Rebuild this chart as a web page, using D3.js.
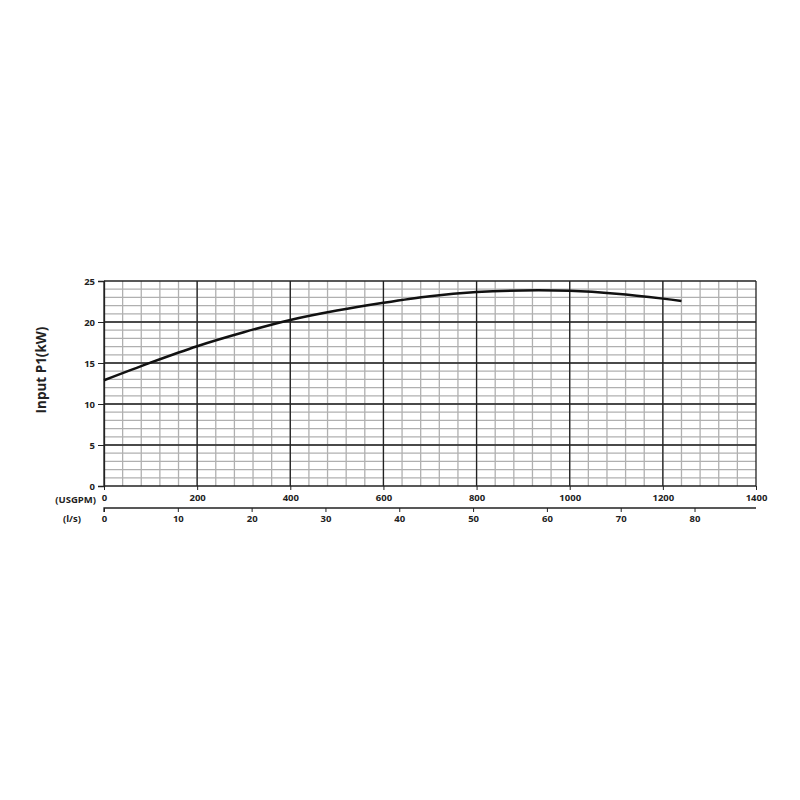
<!DOCTYPE html>
<html>
<head>
<meta charset="utf-8">
<script src="https://cdn.jsdelivr.net/npm/d3@7"></script>
<style>
  body { margin: 0; background: #fff; }
  text { font-family: "Open Sans", "Liberation Sans", sans-serif; font-weight: bold; fill: #222; }
</style>
</head>
<body>
<svg id="chart" width="800" height="800"></svg>
<script>
// flow in USGPM vs input power in kW
const flowUsgpm = [0, 100, 200, 300, 400, 500, 600, 700, 800, 900, 1000, 1100, 1200, 1240];
const powerKw = [12.9, 15.05, 17.05, 18.75, 20.25, 21.4, 22.35, 23.15, 23.65, 23.85, 23.8, 23.45, 22.85, 22.55];
const usgpmTicks = [0, 200, 400, 600, 800, 1000, 1200, 1400];
const lsTicks = [0, 10, 20, 30, 40, 50, 60, 70, 80];
const kwTicks = [0, 5, 10, 15, 20, 25];
const USGPM_PER_LS = 15.850;

const svg = d3.select("#chart");

const x = d3.scaleLinear().domain([0, 1400]).range([104, 756]);
const y = d3.scaleLinear().domain([0, 25]).range([486, 281]);
const xLs = d3.scaleLinear().domain([0, 1400 / USGPM_PER_LS]).range([104, 756]);

const grid = svg.append("g");

// minor grid, every 40 USGPM and every 1 kW
grid.selectAll(".vminor")
    .data(d3.range(40, 1400, 40))
    .enter().append("line")
    .attr("x1", d => x(d)).attr("x2", d => x(d))
    .attr("y1", y(0)).attr("y2", y(25))
    .attr("stroke", "#b0b0b0").attr("stroke-width", 1.3);

grid.selectAll(".hminor")
    .data(d3.range(1, 25, 1))
    .enter().append("line")
    .attr("x1", x(0)).attr("x2", x(1400))
    .attr("y1", d => y(d)).attr("y2", d => y(d))
    .attr("stroke", "#b0b0b0").attr("stroke-width", 1.3);

// major grid
grid.selectAll(".vmajor")
    .data(usgpmTicks)
    .enter().append("line")
    .attr("x1", d => x(d)).attr("x2", d => x(d))
    .attr("y1", y(0)).attr("y2", y(25))
    .attr("stroke", "#222").attr("stroke-width", 1.3);

grid.selectAll(".hmajor")
    .data(kwTicks)
    .enter().append("line")
    .attr("x1", x(0)).attr("x2", x(1400))
    .attr("y1", d => y(d)).attr("y2", d => y(d))
    .attr("stroke", "#222").attr("stroke-width", 1.3);

const fmt = d3.format("d");

// y axis
const yAxis = svg.append("g")
    .attr("transform", `translate(${x(0)},0)`)
    .call(d3.axisLeft(y).tickValues(kwTicks).tickFormat(fmt).tickSize(6).tickPadding(3));
yAxis.select(".domain").attr("stroke", "#222").attr("stroke-width", 1.3);
yAxis.selectAll(".tick line").attr("stroke", "#222");
yAxis.selectAll("text").style("font-size", "9.5px").style("font-weight", "bold").attr("fill", "#222");

// USGPM axis (labels only, ticks below the plot)
const xAxis = svg.append("g")
    .attr("transform", `translate(0,${y(0)})`)
    .call(d3.axisBottom(x).tickValues(usgpmTicks).tickFormat(fmt).tickSize(4).tickPadding(4));
xAxis.select(".domain").remove();
xAxis.selectAll(".tick line").attr("stroke", "#222");
xAxis.selectAll("text").style("font-size", "9.5px").style("font-weight", "bold").attr("fill", "#222");

// l/s axis
const lsAxis = svg.append("g")
    .attr("transform", "translate(0,508)")
    .call(d3.axisBottom(xLs).tickValues(lsTicks).tickFormat(fmt).tickSize(4).tickPadding(3));
lsAxis.select(".domain").attr("d", `M${xLs(0)},4V0H${xLs.range()[1]}`).attr("stroke", "#222").attr("stroke-width", 1.3);
lsAxis.selectAll(".tick line").attr("stroke", "#222");
lsAxis.selectAll("text").style("font-size", "9.5px").style("font-weight", "bold").attr("fill", "#222");

svg.append("text")
    .attr("x", 96).attr("y", 503)
    .attr("text-anchor", "end")
    .style("font-size", "9.5px")
    .text("(USGPM)");

svg.append("text")
    .attr("x", 72).attr("y", 522)
    .attr("text-anchor", "middle")
    .style("font-size", "9.5px")
    .text("(l/s)");

svg.append("text")
    .attr("transform", "translate(46,370) rotate(-90)")
    .attr("text-anchor", "middle")
    .style("font-size", "13.5px")
    .text("Input P1(kW)");

// power curve
const line = d3.line()
    .x((d, i) => x(flowUsgpm[i]))
    .y(d => y(d))
    .curve(d3.curveCatmullRom);

svg.append("path")
    .datum(powerKw)
    .attr("d", line)
    .attr("fill", "none")
    .attr("stroke", "#111")
    .attr("stroke-width", 2.5);
</script>
</body>
</html>
